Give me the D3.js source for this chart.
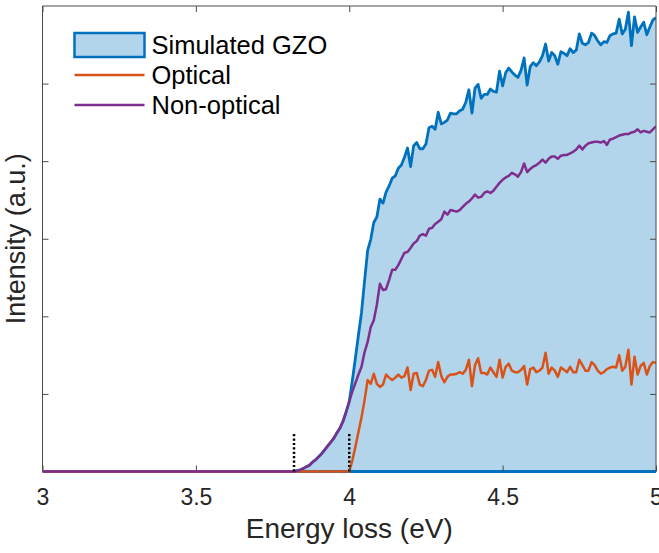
<!DOCTYPE html>
<html>
<head>
<meta charset="utf-8">
<script src="https://cdn.jsdelivr.net/npm/d3@7"></script>
<style>
  body { margin: 0; background: #fff; }
  svg { display: block; font-family: "Liberation Sans", Arial, sans-serif; }
</style>
</head>
<body>
<div id="wrapper"></div>
<script>
// 1. Data (step 0.01 eV)
const energy = [3.00,
  3.82, 3.83, 3.84, 3.85, 3.86, 3.87, 3.88, 3.89, 3.90, 3.91, 3.92, 3.93, 3.94, 3.95, 3.96, 3.97, 3.98, 3.99,
  4.00, 4.01, 4.02, 4.03, 4.04, 4.05, 4.06, 4.07, 4.08, 4.09, 4.10, 4.11, 4.12, 4.13, 4.14, 4.15, 4.16, 4.17, 4.18, 4.19,
  4.20, 4.21, 4.22, 4.23, 4.24, 4.25, 4.26, 4.27, 4.28, 4.29, 4.30, 4.31, 4.32, 4.33, 4.34, 4.35, 4.36, 4.37, 4.38, 4.39,
  4.40, 4.41, 4.42, 4.43, 4.44, 4.45, 4.46, 4.47, 4.48, 4.49, 4.50, 4.51, 4.52, 4.53, 4.54, 4.55, 4.56, 4.57, 4.58, 4.59,
  4.60, 4.61, 4.62, 4.63, 4.64, 4.65, 4.66, 4.67, 4.68, 4.69, 4.70, 4.71, 4.72, 4.73, 4.74, 4.75, 4.76, 4.77, 4.78, 4.79,
  4.80, 4.81, 4.82, 4.83, 4.84, 4.85, 4.86, 4.87, 4.88, 4.89, 4.90, 4.91, 4.92, 4.93, 4.94, 4.95, 4.96, 4.97, 4.98, 4.99, 5.00]

const simulatedGZO = [0,
  0, 0.01, 0.02, 0.04, 0.06, 0.08, 0.12, 0.15, 0.19, 0.23, 0.28, 0.33, 0.38, 0.43, 0.50, 0.56, 0.65, 0.77,
  0.90, 1.17, 1.46, 1.76, 2.05, 2.46, 2.85, 2.99, 3.21, 3.28, 3.51, 3.46, 3.60, 3.68, 3.78, 3.81, 3.91, 3.95, 4.05, 4.17,
  3.93, 4.20, 4.24, 4.16, 4.16, 4.22, 4.43, 4.45, 4.41, 4.63, 4.48, 4.50, 4.53, 4.62, 4.61, 4.61, 4.65, 4.67, 4.76, 4.92,
  4.62, 4.94, 4.99, 4.81, 4.86, 4.86, 4.93, 4.90, 4.89, 5.16, 4.97, 5.14, 5.20, 5.15, 5.11, 5.08, 5.17, 5.33, 4.98, 5.22,
  5.27, 5.23, 5.28, 5.36, 5.51, 5.29, 5.40, 5.36, 5.25, 5.41, 5.39, 5.36, 5.45, 5.40, 5.43, 5.64, 5.52, 5.50, 5.53, 5.65,
  5.62, 5.55, 5.50, 5.54, 5.53, 5.62, 5.64, 5.65, 5.83, 5.64, 5.70, 5.92, 5.49, 5.86, 5.66, 5.73, 5.79, 5.63, 5.73, 5.82, 5.85]

const optical = [0,
  0, 0, 0, 0, 0, 0, 0, 0, 0, 0, 0, 0, 0, 0, 0, 0, 0, 0,
  0, 0.14, 0.32, 0.51, 0.70, 0.92, 1.18, 1.13, 1.26, 1.13, 1.09, 1.12, 1.25, 1.21, 1.18, 1.21, 1.25, 1.21, 1.23, 1.34,
  1.05, 1.26, 1.27, 1.12, 1.10, 1.18, 1.30, 1.31, 1.22, 1.41, 1.23, 1.15, 1.22, 1.25, 1.25, 1.26, 1.28, 1.26, 1.31, 1.44,
  1.10, 1.37, 1.46, 1.27, 1.27, 1.25, 1.34, 1.28, 1.22, 1.44, 1.21, 1.35, 1.39, 1.30, 1.28, 1.28, 1.31, 1.36, 1.12, 1.32,
  1.34, 1.28, 1.30, 1.34, 1.53, 1.26, 1.34, 1.30, 1.22, 1.34, 1.31, 1.28, 1.35, 1.28, 1.28, 1.44, 1.37, 1.30, 1.30, 1.41,
  1.37, 1.30, 1.26, 1.28, 1.32, 1.34, 1.35, 1.34, 1.50, 1.30, 1.35, 1.57, 1.12, 1.48, 1.25, 1.36, 1.40, 1.25, 1.36, 1.41, 1.40]

const nonOptical = [0,
  0, 0.01, 0.02, 0.04, 0.06, 0.08, 0.12, 0.15, 0.19, 0.23, 0.28, 0.33, 0.38, 0.43, 0.50, 0.56, 0.65, 0.77,
  0.90, 1.03, 1.14, 1.25, 1.35, 1.54, 1.67, 1.86, 1.95, 2.15, 2.42, 2.34, 2.35, 2.47, 2.60, 2.60, 2.66, 2.74, 2.82, 2.83,
  2.88, 2.94, 2.97, 3.04, 3.06, 3.04, 3.13, 3.14, 3.19, 3.22, 3.25, 3.35, 3.31, 3.37, 3.36, 3.35, 3.37, 3.41, 3.45, 3.48,
  3.52, 3.57, 3.53, 3.54, 3.59, 3.61, 3.59, 3.62, 3.67, 3.72, 3.76, 3.79, 3.81, 3.85, 3.83, 3.80, 3.86, 3.97, 3.86, 3.90,
  3.93, 3.95, 3.98, 4.02, 3.98, 4.03, 4.06, 4.06, 4.03, 4.07, 4.08, 4.08, 4.10, 4.12, 4.15, 4.20, 4.15, 4.20, 4.23, 4.24,
  4.25, 4.25, 4.24, 4.26, 4.21, 4.28, 4.29, 4.31, 4.33, 4.34, 4.35, 4.35, 4.37, 4.38, 4.41, 4.37, 4.39, 4.38, 4.37, 4.41, 4.45]

// onset markers (dotted lines)
const onsets = [3.82, 4.00]
const onsetHeight = 0.51

const xTicks = [3, 3.5, 4, 4.5, 5]
const yTicks = [1, 2, 3, 4, 5]
const seriesNames = ["Simulated GZO", "Optical", "Non-optical"]

// 2. Dimensions
let dimensions = {
  width: 659,
  height: 553,
  margin: { top: 6, right: 3, bottom: 81.5, left: 42.5 },
}
dimensions.boundedWidth = dimensions.width - dimensions.margin.left - dimensions.margin.right
dimensions.boundedHeight = dimensions.height - dimensions.margin.top - dimensions.margin.bottom

const axisColor = "#4a4a4a"
const textColor = "#262626"
const blue = "#0072BD", orange = "#D95319", purple = "#7E2F8E", fillBlue = "rgb(179,213,235)"

// 3. Canvas
const wrapper = d3.select("#wrapper")
  .append("svg")
  .attr("width", dimensions.width)
  .attr("height", dimensions.height)

const bounds = wrapper.append("g")
  .attr("transform", `translate(${dimensions.margin.left}, ${dimensions.margin.top})`)

// clip left/right/top at the box, but let the zero lines keep their width at the bottom
bounds.append("defs").append("clipPath")
  .attr("id", "plot-clip")
  .append("rect")
  .attr("y", -3)
  .attr("width", dimensions.boundedWidth)
  .attr("height", dimensions.boundedHeight + 6)

// 4. Scales
const xScale = d3.scaleLinear()
  .domain([3, 5])
  .range([0, dimensions.boundedWidth])

const yScale = d3.scaleLinear()
  .domain([0, 6])
  .range([dimensions.boundedHeight, 0])

const rows = energy.map((e, i) => ({
  e: e,
  sim: simulatedGZO[i],
  opt: optical[i],
  non: nonOptical[i],
}))

// 5. Data
const plot = bounds.append("g").attr("clip-path", "url(#plot-clip)")

const areaGen = d3.area()
  .x(d => xScale(d.e))
  .y0(yScale(0))
  .y1(d => yScale(d.sim))

const lineGen = key => d3.line()
  .x(d => xScale(d.e))
  .y(d => yScale(d[key]))

plot.append("path")
  .datum(rows)
  .attr("d", areaGen)
  .attr("fill", fillBlue)

// patch outline: top edge and baseline
plot.append("path")
  .datum(rows)
  .attr("d", lineGen("sim"))
  .attr("fill", "none")
  .attr("stroke", blue)
  .attr("stroke-width", 2.8)
  .attr("stroke-linejoin", "round")

plot.append("line")
  .attr("x1", xScale(3))
  .attr("x2", xScale(5))
  .attr("y1", yScale(0))
  .attr("y2", yScale(0))
  .attr("stroke", blue)
  .attr("stroke-width", 2.8)

plot.append("path")
  .datum(rows)
  .attr("d", lineGen("opt"))
  .attr("fill", "none")
  .attr("stroke", orange)
  .attr("stroke-width", 2.5)
  .attr("stroke-linejoin", "round")

plot.append("path")
  .datum(rows)
  .attr("d", lineGen("non"))
  .attr("fill", "none")
  .attr("stroke", purple)
  .attr("stroke-width", 2.5)
  .attr("stroke-linejoin", "round")

plot.selectAll(".onset")
  .data(onsets)
  .join("line")
  .attr("class", "onset")
  .attr("x1", d => xScale(d))
  .attr("x2", d => xScale(d))
  .attr("y1", yScale(0))
  .attr("y2", yScale(onsetHeight))
  .attr("stroke", "#000")
  .attr("stroke-width", 2.5)
  .attr("stroke-dasharray", "2.2,2.2")

// 6. Peripherals
const styleAxis = g => {
  g.select(".domain").remove()
  g.selectAll(".tick line").attr("stroke", axisColor)
  g.selectAll(".tick text")
    .attr("fill", textColor)
    .style("font-size", "23px")
    .style("font-family", "'Liberation Sans', Arial, sans-serif")
}

bounds.append("g")
  .attr("transform", `translate(0, ${dimensions.boundedHeight})`)
  .call(d3.axisBottom(xScale).tickValues(xTicks).tickFormat(d3.format("")).tickSizeInner(-6).tickSizeOuter(0).tickPadding(17))
  .call(styleAxis)

bounds.append("g")
  .call(d3.axisTop(xScale).tickValues(xTicks).tickFormat("").tickSizeInner(-6).tickSizeOuter(0))
  .call(styleAxis)

bounds.append("g")
  .call(d3.axisLeft(yScale).tickValues(yTicks).tickFormat("").tickSizeInner(-6).tickSizeOuter(0))
  .call(styleAxis)

bounds.append("g")
  .attr("transform", `translate(${dimensions.boundedWidth}, 0)`)
  .call(d3.axisRight(yScale).tickValues(yTicks).tickFormat("").tickSizeInner(-6).tickSizeOuter(0))
  .call(styleAxis)

// box: top and right edges (left/bottom are covered by the zero lines)
bounds.append("path")
  .attr("d", `M0,${dimensions.boundedHeight}V0H${dimensions.boundedWidth}V${dimensions.boundedHeight}`)
  .attr("fill", "none")
  .attr("stroke", axisColor)
  .attr("stroke-width", 1)

// axis labels
bounds.append("text")
  .attr("x", dimensions.boundedWidth / 2)
  .attr("y", dimensions.boundedHeight + 66)
  .attr("text-anchor", "middle")
  .attr("fill", textColor)
  .style("font-size", "28px")
  .text("Energy loss (eV)")

bounds.append("text")
  .attr("transform", `translate(${-18}, ${dimensions.boundedHeight / 2}) rotate(-90)`)
  .attr("text-anchor", "middle")
  .attr("fill", textColor)
  .style("font-size", "27px")
  .text("Intensity (a.u.)")

// legend
const legend = bounds.append("g")
  .attr("transform", "translate(32, 39)")

const legendItems = legend.selectAll("g")
  .data(seriesNames)
  .join("g")
  .attr("transform", (d, i) => `translate(0, ${i * 30})`)

legendItems.filter((d, i) => i === 0)
  .append("rect")
  .attr("x", 0)
  .attr("y", -12)
  .attr("width", 70)
  .attr("height", 24)
  .attr("fill", fillBlue)
  .attr("stroke", blue)
  .attr("stroke-width", 2.5)

legendItems.filter((d, i) => i > 0)
  .append("line")
  .attr("x1", 0)
  .attr("x2", 70)
  .attr("stroke", (d, i) => [orange, purple][i])
  .attr("stroke-width", 2.5)

legendItems.append("text")
  .attr("x", 77)
  .attr("dy", "0.36em")
  .attr("fill", "#000")
  .style("font-size", "25.5px")
  .text(d => d)
</script>
</body>
</html>
